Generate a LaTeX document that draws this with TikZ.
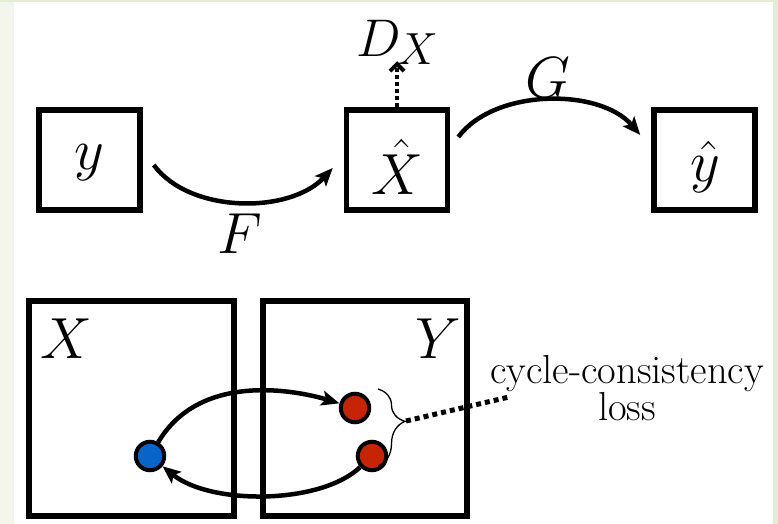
\RequirePackage{fix-cm}
\documentclass[tikz,border=0pt]{standalone}
\usetikzlibrary{arrows.meta,decorations.pathreplacing,calc}
\definecolor{dotblue}{RGB}{8,100,200}
\definecolor{dotred}{RGB}{198,36,4}
\definecolor{stripL}{RGB}{244,246,238}
\definecolor{stripR}{RGB}{229,236,214}
\newcommand\mathsz{\fontsize{58}{60}\selectfont}
\newcommand\dsz{\fontsize{53}{54}\selectfont}
\newcommand\dxsz{\fontsize{45}{46}\selectfont}
\newcommand\txtsz{\fontsize{40.5}{34}\selectfont}
\begin{document}
\begin{tikzpicture}[x=1pt,y=-1pt,
  box/.style={draw, line width=5.5pt, minimum width=101pt, minimum height=100pt, inner sep=0pt},
  bigbox/.style={draw, line width=5.5pt, minimum height=215pt, inner sep=0pt},
  lbl/.style={inner sep=0pt, font=\mathsz},
  dot/.style={circle, draw, line width=4pt, minimum size=28.5pt, inner sep=0pt},
  arr/.style={line width=4.5pt, -{Stealth[length=18pt,width=15pt,inset=4pt]}},
  dotarr/.style={line width=4pt, dash pattern=on 4pt off 3pt, -{Straight Barb[length=7pt,width=14pt]}},
  dotline/.style={line width=5pt, dash pattern=on 5pt off 4pt},
  txt/.style={inner sep=0pt, font=\txtsz, align=center}]
\useasboundingbox (0,0) rectangle (778,524);
\fill[white] (0,0) rectangle (778,524);
\fill[stripL] (0,0) rectangle (14,524);
\fill[stripR] (773,0) rectangle (778,524);
\fill[stripR] (0,0) rectangle (778,2);

% top row
\node[box] (ybox) at (89.5,160) {};
\node[box] (xbox) at (397,160) {};
\node[box] (yhbox) at (704.5,160) {};
\node[lbl] (ylab) at ($(ybox.center)+(0,3)$) {$y$};
\node[lbl] (xlab) at ($(xbox.center)+(0,7)$) {$\hat{X}$};
\node[lbl] (yhlab) at ($(yhbox.center)+(1,7)$) {$\hat{y}$};
\node[lbl] (flab) at (240,234) {$F$};
\node[lbl] (glab) at (548,78) {$G$};
\node[inner sep=0pt] (dx) at (397,42) {{\dsz$D$}\kern-3pt\raisebox{-8pt}{\dxsz$X$}};

\draw[arr] ($(ybox.east)+(11,5)$) .. controls (190,214) and (290,214) .. ($(xbox.west)+(-11,8)$);
\draw[arr] ($(xbox.east)+(8,-23)$) .. controls (495,88) and (600,88) .. ($(yhbox.west)+(-11,-25)$);
\draw[dotarr] (xbox.north) -- ($(xbox.north)+(0,-46)$);

% bottom row
\node[bigbox, minimum width=205pt] (xdom) at (131.5,408.5) {};
\node[bigbox, minimum width=204pt] (ydom) at (365,408.5) {};
\node[lbl] (xdl) at (66,339) {$X$};
\node[lbl] (ydl) at (438,339) {$Y$};

\node[dot, fill=dotblue] (b) at (150,456) {};
\node[dot, fill=dotred] (r1) at (355,408) {};
\node[dot, fill=dotred] (r2) at (372,456) {};

\draw[arr] (b) .. controls (200,372) and (295,390) .. (r1);
\draw[arr] (r2) .. controls (320,505) and (210,505) .. (b);

\draw[decorate, decoration={brace, amplitude=27pt, aspect=0.42}, line width=1.3pt] (378,389) -- (378,466);
\coordinate (btip) at (406,421);
\coordinate (lossend) at (509,397);
\draw[dotline] (btip) -- (lossend);
\node[txt] (loss) at (627,388) {cycle-consistency\\loss};
\end{tikzpicture}
\end{document}
